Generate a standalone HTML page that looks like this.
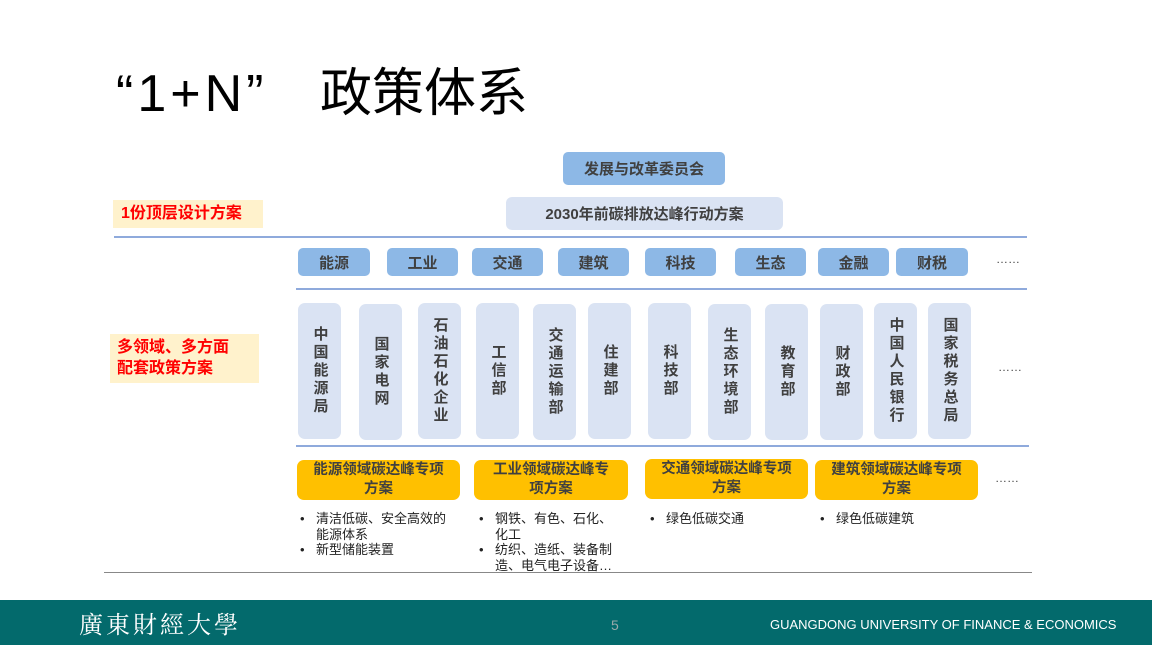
<!DOCTYPE html>
<html><head><meta charset="utf-8"><style>
*{margin:0;padding:0;box-sizing:border-box}
body{width:1152px;height:645px;position:relative;background:#fff;overflow:hidden;font-family:"Liberation Sans","Noto Sans CJK SC",sans-serif;}
.a{position:absolute}
.t{position:absolute;display:flex;align-items:center;justify-content:center;text-align:center;font-weight:bold;color:#404040;}
.hb{background:#8db8e6;border-radius:5px;font-size:15px;}
.vb{background:#dae3f3;border-radius:7px;font-size:15px;line-height:18px;writing-mode:vertical-rl;letter-spacing:3px;}
.ob{background:#ffc000;border-radius:7px;font-size:14.5px;line-height:19px;color:#404040;}
.ln{position:absolute;height:2px;background:#8faadc}
.bl{position:absolute;font-size:13px;line-height:15.5px;color:#222;}
.bl div{padding-left:18px;position:relative}
.bl div::before{content:"•";position:absolute;left:2px}
.dots{position:absolute;font-size:12px;color:#444;letter-spacing:0}
</style></head><body>
<div class="a" style="left:116px;top:62px;font-size:52px;line-height:64px;color:#000;letter-spacing:4px;">“1+N”</div>
<div class="a" style="left:320px;top:62px;font-size:52px;line-height:64px;color:#000;">政策体系</div>

<div class="t hb" style="left:563px;top:152px;width:162px;height:33px;">发展与改革委员会</div>
<div class="t" style="left:506px;top:197px;width:277px;height:33px;background:#dae3f3;border-radius:6px;font-size:15px;">2030年前碳排放达峰行动方案</div>
<div class="a" style="left:113px;top:200px;width:150px;height:28px;background:#fff2cc;color:#ff0000;font-weight:bold;font-size:16px;line-height:28px;padding-left:8px;">1份顶层设计方案</div>
<div class="ln" style="left:114px;top:236px;width:913px;"></div>

<div class="t hb" style="left:298px;top:248px;width:72px;height:28px;">能源</div>
<div class="t hb" style="left:387px;top:248px;width:71px;height:28px;">工业</div>
<div class="t hb" style="left:472px;top:248px;width:71px;height:28px;">交通</div>
<div class="t hb" style="left:558px;top:248px;width:71px;height:28px;">建筑</div>
<div class="t hb" style="left:645px;top:248px;width:71px;height:28px;">科技</div>
<div class="t hb" style="left:735px;top:248px;width:71px;height:28px;">生态</div>
<div class="t hb" style="left:818px;top:248px;width:71px;height:28px;">金融</div>
<div class="t hb" style="left:896px;top:248px;width:72px;height:28px;">财税</div>
<div class="dots" style="left:996px;top:252px;">……</div>
<div class="ln" style="left:296px;top:288px;width:731px;"></div>

<div class="t vb" style="left:298px;top:303px;width:43px;height:136px;">中国能源局</div>
<div class="t vb" style="left:359px;top:304px;width:43px;height:136px;">国家电网</div>
<div class="t vb" style="left:418px;top:303px;width:43px;height:136px;">石油石化企业</div>
<div class="t vb" style="left:476px;top:303px;width:43px;height:136px;">工信部</div>
<div class="t vb" style="left:533px;top:304px;width:43px;height:136px;">交通运输部</div>
<div class="t vb" style="left:588px;top:303px;width:43px;height:136px;">住建部</div>
<div class="t vb" style="left:648px;top:303px;width:43px;height:136px;">科技部</div>
<div class="t vb" style="left:708px;top:304px;width:43px;height:136px;">生态环境部</div>
<div class="t vb" style="left:765px;top:304px;width:43px;height:136px;">教育部</div>
<div class="t vb" style="left:820px;top:304px;width:43px;height:136px;">财政部</div>
<div class="t vb" style="left:874px;top:303px;width:43px;height:136px;">中国人民银行</div>
<div class="t vb" style="left:928px;top:303px;width:43px;height:136px;">国家税务总局</div>
<div class="dots" style="left:998px;top:360px;">……</div>
<div class="a" style="left:110px;top:334px;width:149px;height:49px;background:#fff2cc;color:#ff0000;font-weight:bold;font-size:16px;line-height:21px;padding:3px 0 0 7px;">多领域、多方面<br>配套政策方案</div>
<div class="ln" style="left:296px;top:445px;width:733px;"></div>

<div class="t ob" style="left:297px;top:460px;width:163px;height:40px;">能源领域碳达峰专项<br>方案</div>
<div class="t ob" style="left:474px;top:460px;width:154px;height:40px;">工业领域碳达峰专<br>项方案</div>
<div class="t ob" style="left:645px;top:459px;width:163px;height:40px;">交通领域碳达峰专项<br>方案</div>
<div class="t ob" style="left:815px;top:460px;width:163px;height:40px;">建筑领域碳达峰专项<br>方案</div>
<div class="dots" style="left:995px;top:471px;">……</div>

<div class="bl" style="left:298px;top:511px;width:160px;"><div>清洁低碳、安全高效的能源体系</div><div>新型储能装置</div></div>
<div class="bl" style="left:477px;top:511px;width:142px;"><div>钢铁、有色、石化、化工</div><div>纺织、造纸、装备制造、电气电子设备…</div></div>
<div class="bl" style="left:648px;top:511px;width:160px;"><div>绿色低碳交通</div></div>
<div class="bl" style="left:818px;top:511px;width:160px;"><div>绿色低碳建筑</div></div>

<div class="a" style="left:104px;top:572px;width:928px;height:1px;background:#888"></div>

<div class="a" style="left:0;top:600px;width:1152px;height:45px;background:#036a6c"></div>
<div class="a" style="left:79px;top:608px;font-size:24px;line-height:30px;color:#fff;font-family:'Noto Serif CJK SC',serif;letter-spacing:3px;">廣東財經大學</div>
<div class="a" style="left:611px;top:617px;font-size:14px;color:#9aa;">5</div>
<div class="a" style="left:770px;top:617px;font-size:13px;color:#fff;">GUANGDONG UNIVERSITY OF FINANCE &amp; ECONOMICS</div>
</body></html>
